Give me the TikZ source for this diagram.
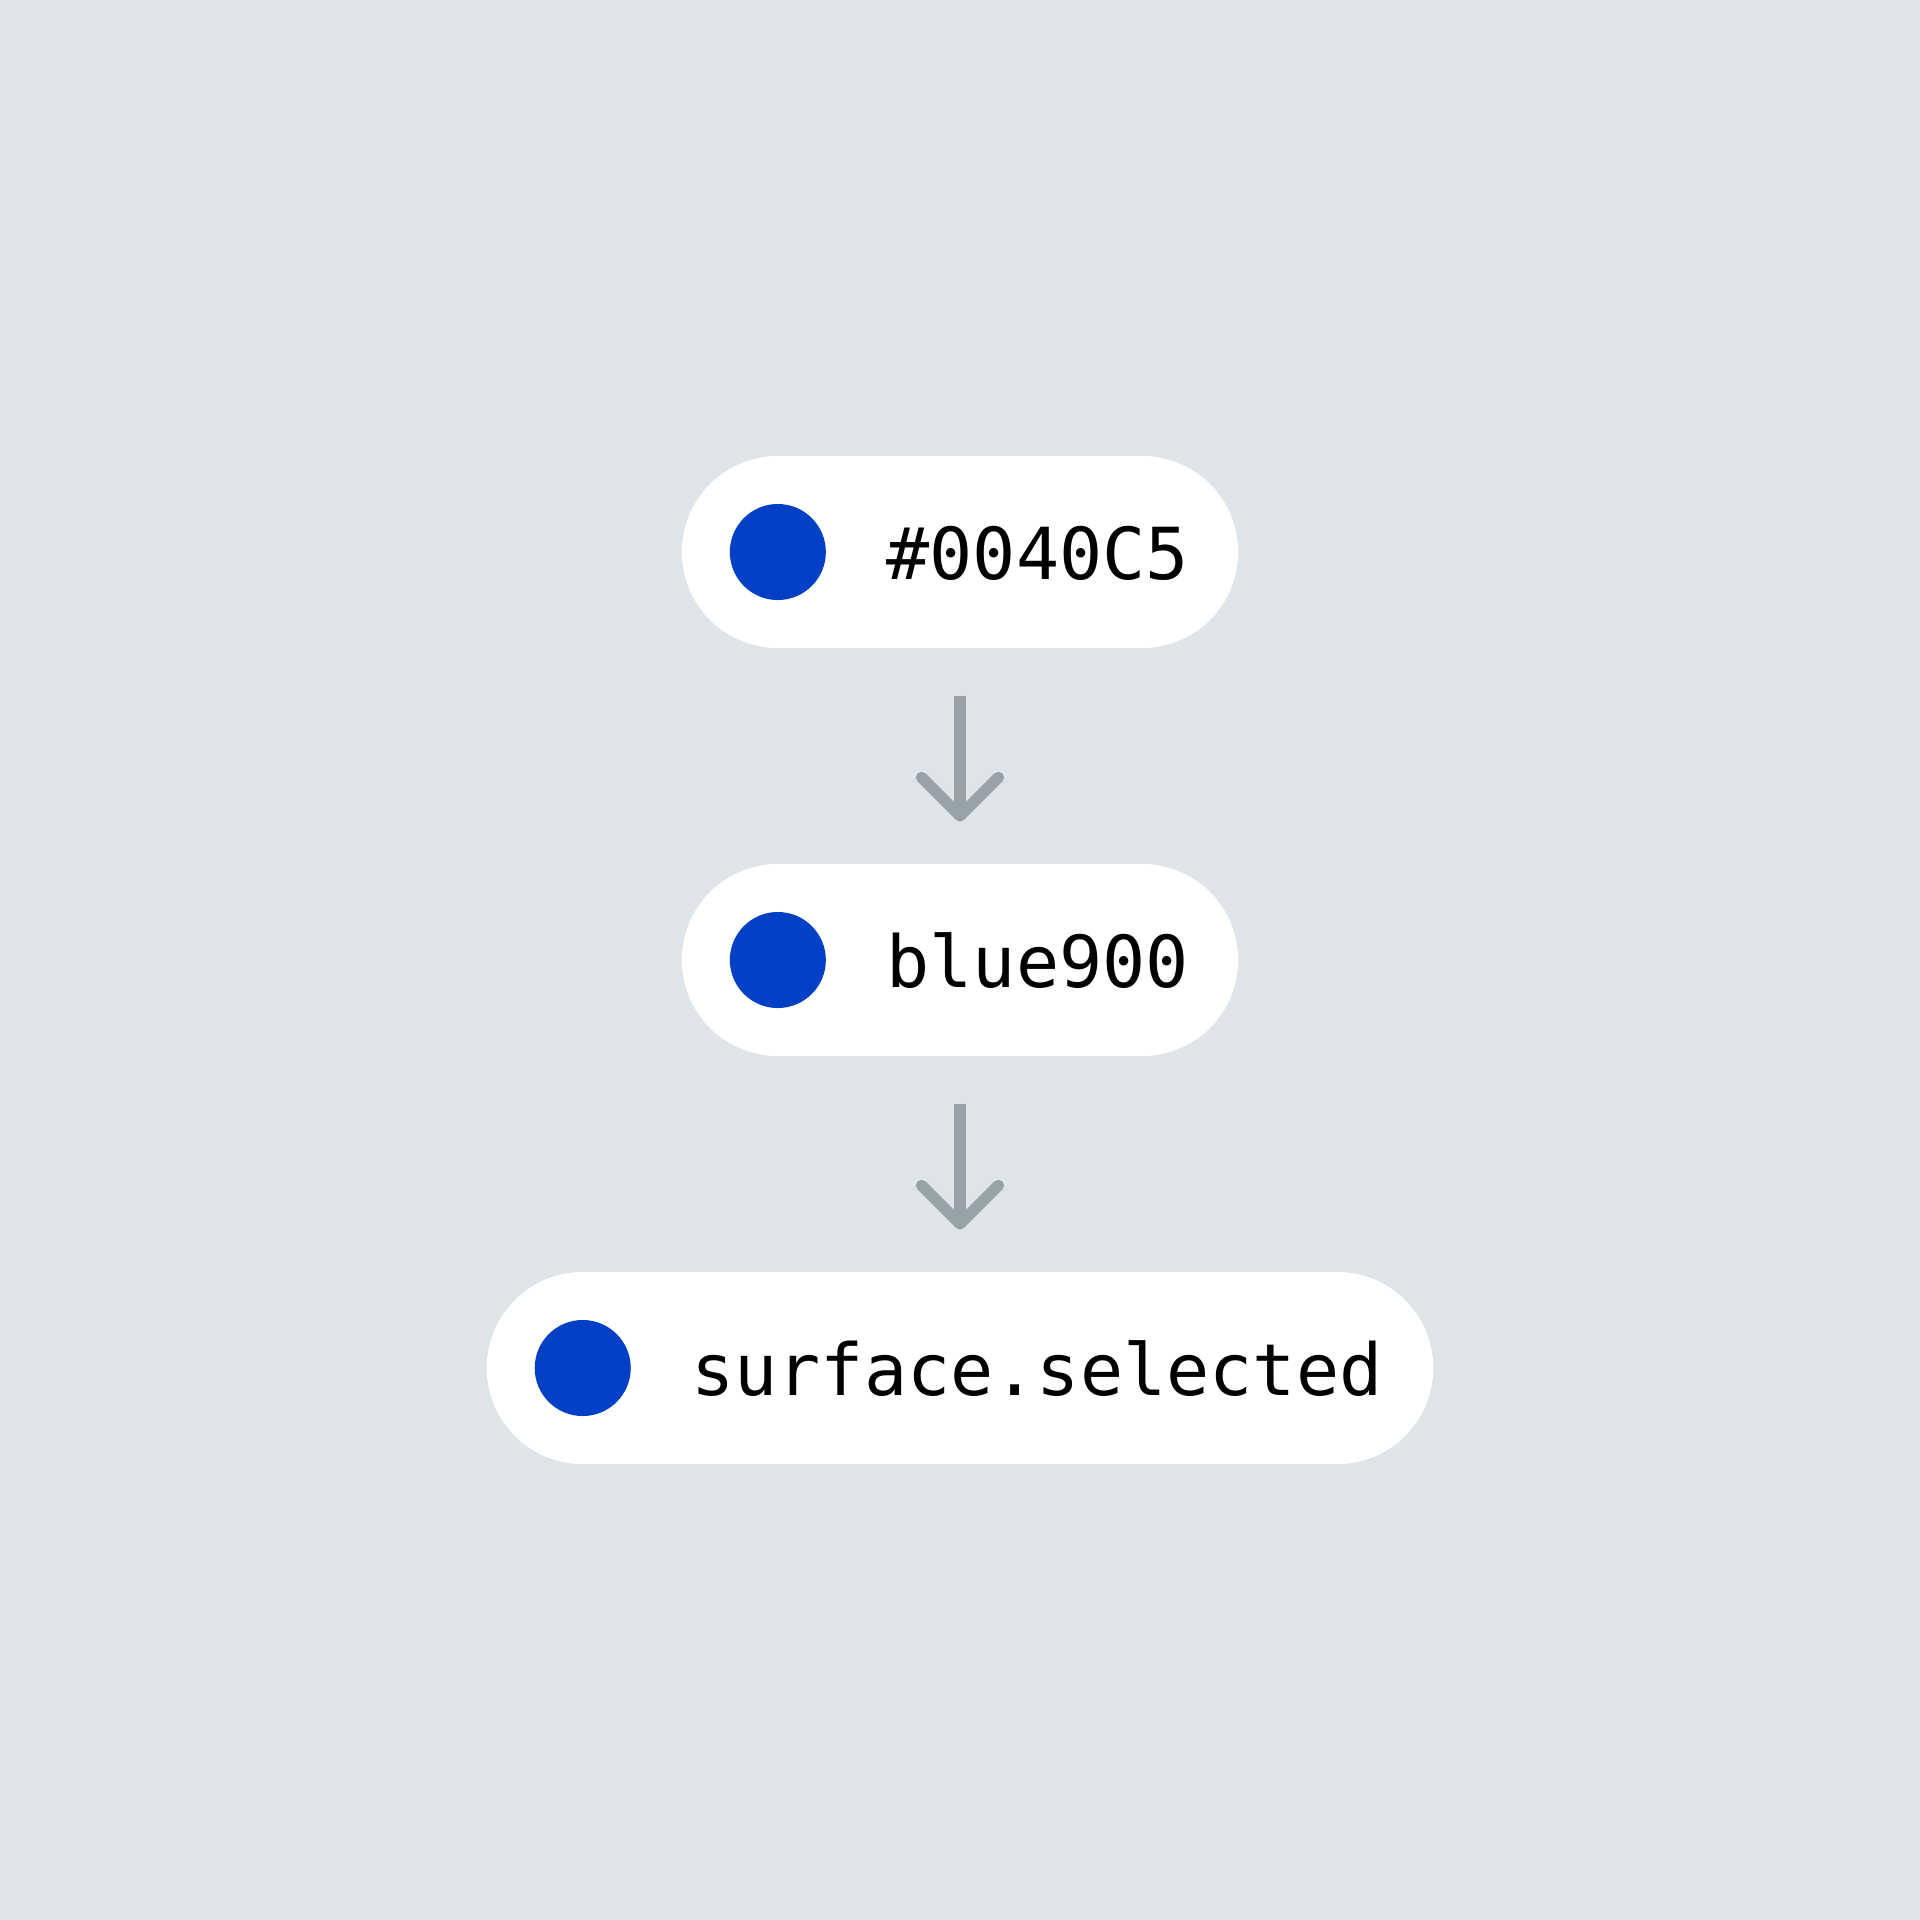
\documentclass[tikz,border=0pt]{standalone}
\usepackage{fontspec}
\setmonofont{DejaVu Sans Mono}
\usetikzlibrary{shapes.misc,calc}
\definecolor{bg}{HTML}{DFE4E8}
\definecolor{dot}{HTML}{0040C5}
\definecolor{arr}{HTML}{97A1A8}
\begin{document}
\begin{tikzpicture}[x=0.01cm,y=-0.01cm,
 pill/.style={rounded rectangle, fill=white, minimum height=1.92cm, inner sep=0pt, outer sep=0pt},
 dotc/.style={circle, fill=dot, minimum size=0.96cm, inner sep=0pt},
 lbl/.style={anchor=base west, inner sep=0pt, font=\ttfamily\fontsize{20.4pt}{24pt}\selectfont},
 conn/.style={draw=arr, line width=0.113cm},
 tip/.style={draw=arr, line width=0.113cm, line cap=round, line join=round}]
\fill[bg] (0,0) rectangle (1920,1920);
\useasboundingbox (0,0) rectangle (1920,1920);
% pills
\node[pill, minimum width=5.56cm] (p1) at (960,552) {};
\node[pill, minimum width=5.56cm] (p2) at (960,960) {};
\node[pill, minimum width=9.46cm] (p3) at (960,1368) {};
% dots
\node[dotc] (d1) at ($(p1.west)+(96,0)$) {};
\node[dotc] (d2) at ($(p2.west)+(96,0)$) {};
\node[dotc] (d3) at ($(p3.west)+(96,0)$) {};
% labels
\node[lbl] (l1) at ($(p1.west)+(204,27.5)$) {\#0040C5};
\node[lbl] (l2) at ($(p2.west)+(204,27.5)$) {blue900};
\node[lbl] (l3) at ($(p3.west)+(204,27.5)$) {surface.selected};
% connectors
\coordinate (t1) at ($(p1.south)+(0,47.5)$);
\coordinate (h1) at ($(p2.north)+(0,-48)$);
\coordinate (t2) at ($(p2.south)+(0,47.5)$);
\coordinate (h2) at ($(p3.north)+(0,-48)$);
\draw[conn] (t1) -- (h1);
\draw[tip] ($(h1)+(-38.5,-38.5)$) -- (h1) -- ($(h1)+(38.5,-38.5)$);
\draw[conn] (t2) -- (h2);
\draw[tip] ($(h2)+(-38.5,-38.5)$) -- (h2) -- ($(h2)+(38.5,-38.5)$);
\end{tikzpicture}
\end{document}
